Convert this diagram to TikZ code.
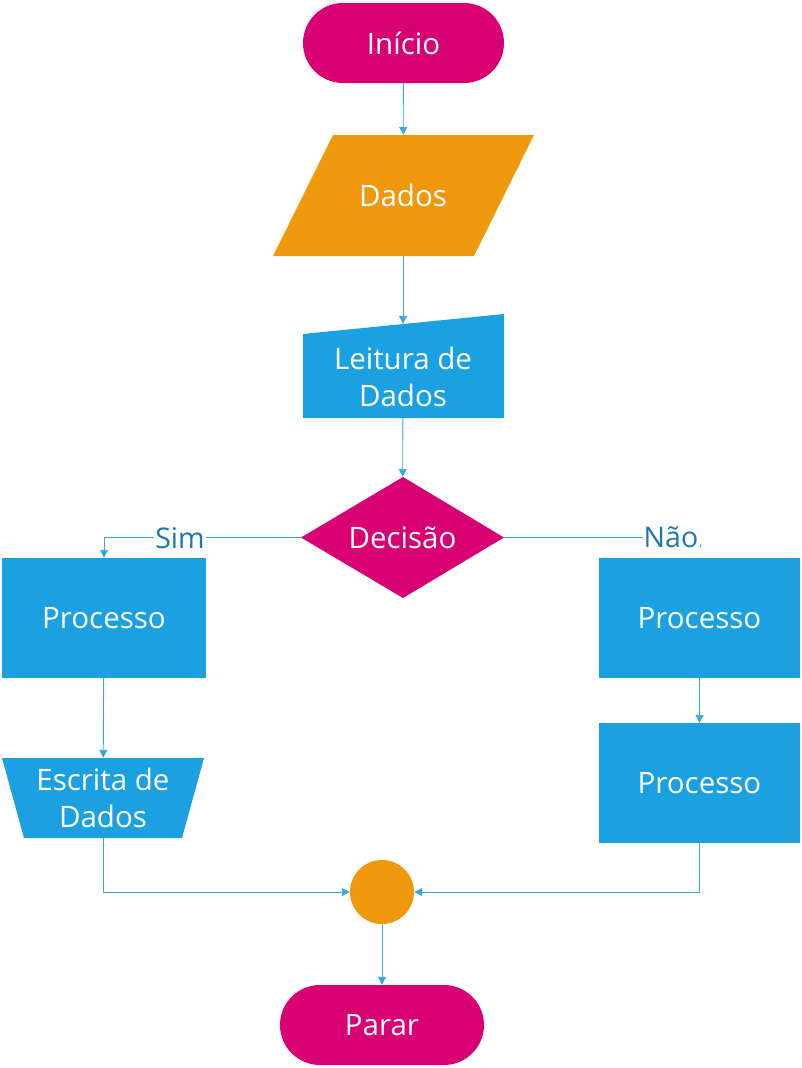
\documentclass[tikz,border=0pt]{standalone}
\usepackage{fontspec}
\setmainfont{Open Sans}
\usetikzlibrary{shapes.geometric,arrows.meta}
\definecolor{mag}{HTML}{D80073}
\definecolor{org}{HTML}{F0980C}
\definecolor{blu}{HTML}{1BA1E2}
\definecolor{lin}{HTML}{3AA5DE}
\definecolor{labc}{HTML}{1F75AE}
\begin{document}
\begin{tikzpicture}[x=1pt,y=-1pt,
  txt/.style={text=white,font=\fontsize{29.5}{37.5}\selectfont,align=center,inner sep=0pt},
  term/.style={txt,fill=mag,rounded corners=40pt,minimum width=201pt,minimum height=80pt},
  procbox/.style={txt,fill=blu,minimum width=204pt,minimum height=120pt},
  ghost/.style={inner sep=0pt},
  conn/.style={draw=lin,line width=0.9pt,-{Triangle[length=8pt,width=8pt]}},
  plain/.style={draw=lin,line width=0.9pt},
  lab/.style={text=labc,fill=white,font=\fontsize{28.5}{30}\selectfont,inner sep=1pt}]
\useasboundingbox (0,0) rectangle (802,1068);
% shapes drawn directly
\fill[org] (333,135) -- (534,135) -- (474,256) -- (273,256) -- cycle;
\fill[blu] (303,334) -- (504,314) -- (504,418) -- (303,418) -- cycle;
\fill[mag] (403,477) -- (504,537.5) -- (403,598) -- (301,537.5) -- cycle;
\fill[blu] (2,758) -- (204,758) -- (182,838) -- (24,838) -- cycle;
% nodes
\node[term] (ini) at (403.5,43) {Início};
\node[txt,minimum width=201pt,minimum height=121pt] (dados) at (403,195.5) {Dados};
\node[ghost,minimum width=201pt,minimum height=94pt] (leit) at (403,371) {};
\node[txt] (leittxt) at (403,377) {Leitura de\\Dados};
\node[txt,minimum width=203pt,minimum height=121pt] (dec) at (402.5,537.5) {Decisão};
\node[procbox] (p1) at (104,618) {Processo};
\node[txt,minimum width=202pt,minimum height=80pt] (esc) at (103,798) {Escrita de\\Dados};
\node[procbox,minimum width=201pt] (p2) at (699.5,618) {Processo};
\node[procbox,minimum width=201pt] (p3) at (699.5,783) {Processo};
\node[circle,fill=org,minimum size=64pt,inner sep=0pt] (circ) at (382,892) {};
\node[term,minimum width=204pt] (stop) at (382,1025) {Parar};
% connectors
\draw[conn] (ini) -- (dados);
\draw[conn] (dados) -- (leit);
\draw[conn] (leit) -- (dec);
\draw[conn] (dec.west) -| (p1.north);
\node[lab] (sim) at (180,538) {Sim};
\node[lab] (nao) at (671,537.5) {Não};
\node[text=lin,font=\fontsize{14}{14}\selectfont,inner sep=0pt] (tick) at (701,547) {,};
\draw[plain] (dec.east) -- (nao.west);
\draw[conn] (p1) -- (esc);
\draw[conn] (esc.south) |- (circ.west);
\draw[conn] (p2) -- (p3);
\draw[conn] (p3.south) |- (circ.east);
\draw[conn] (circ) -- (stop);
\end{tikzpicture}
\end{document}
